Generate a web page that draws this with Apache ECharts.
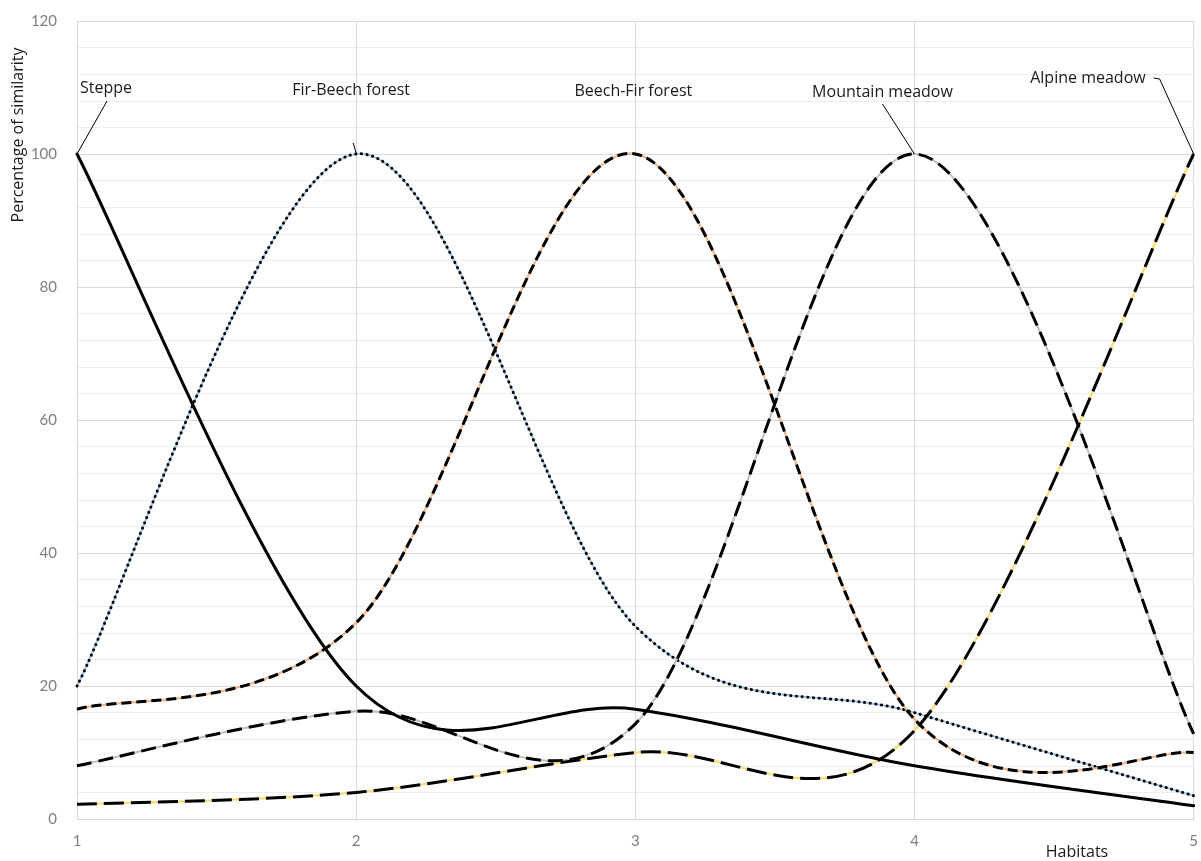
<!DOCTYPE html>
<html><head><meta charset="utf-8">
<script src="https://cdn.jsdelivr.net/npm/echarts@6/dist/echarts.min.js"></script>
<style>html,body{margin:0;padding:0;background:#fff}#c{width:1201px;height:861px}</style>
</head><body><div id="c"></div>
<script>
const habitats = [1, 2, 3, 4, 5];
const steppe = [100, 20, 16.5, 8, 2];
const firBeech = [20, 100, 29, 16, 3.5];
const beechFir = [16.5, 29.5, 100, 15, 10];
const mountainMeadow = [8, 16.2, 14.3, 100, 12.8];
const alpineMeadow = [2.2, 4, 10, 13.3, 100];
const yTicks = [0, 20, 40, 60, 80, 100, 120];
const seriesNames = ['Steppe', 'Fir-Beech forest', 'Beech-Fir forest', 'Mountain meadow', 'Alpine meadow'];

const TICK_FONT = 'Lato, "Open Sans", sans-serif';
const TEXT_FONT = '"Open Sans", Lato, sans-serif';
const pts = arr => habitats.map((x, i) => [x, arr[i]]);

// Smoothed curve (Excel-like cardinal spline) through the data points, placed with the axes' scales
function smoothRenderer(arr, layers) {
  return function (params, api) {
    if (params.dataIndex !== 0) return null;
    const p = habitats.map((x, i) => api.coord([x, arr[i]]));
    const n = p.length;
    let d = 'M' + p[0][0] + ',' + p[0][1];
    for (let i = 0; i < n - 1; i++) {
      const p0 = p[i - 1] || p[i], p1 = p[i], p2 = p[i + 1], p3 = p[i + 2] || p[i + 1];
      const c1x = p1[0] + (p2[0] - p0[0]) / 6, c1y = p1[1] + (p2[1] - p0[1]) / 6;
      const c2x = p2[0] - (p3[0] - p1[0]) / 6, c2y = p2[1] - (p3[1] - p1[1]) / 6;
      d += ' C' + c1x + ',' + c1y + ' ' + c2x + ',' + c2y + ' ' + p2[0] + ',' + p2[1];
    }
    return {
      type: 'group',
      children: layers.map(l => ({
        type: 'path', shape: { pathData: d },
        style: { fill: 'none', stroke: l.color, lineWidth: l.width, lineDash: l.dash || null, lineCap: l.cap || 'butt', lineJoin: 'round' }
      }))
    };
  };
}

function curve(name, arr, layers, z) {
  return { name, type: 'custom', coordinateSystem: 'cartesian2d', data: pts(arr),
    encode: { x: 0, y: 1 }, z, silent: true, renderItem: smoothRenderer(arr, layers) };
}

const series = [
  curve(seriesNames[1], firBeech, [{ color: '#9dc3e6', width: 2 }, { color: '#000', width: 3, dash: [0.1, 5.6], cap: 'round' }], 3),
  curve(seriesNames[2], beechFir, [{ color: '#f4b183', width: 2 }, { color: '#000', width: 3, dash: [10, 5] }], 4),
  curve(seriesNames[3], mountainMeadow, [{ color: '#bfbfbf', width: 2 }, { color: '#000', width: 3, dash: [15, 7] }], 5),
  curve(seriesNames[4], alpineMeadow, [{ color: '#ffd966', width: 2 }, { color: '#000', width: 3, dash: [20, 7] }], 6),
  curve(seriesNames[0], steppe, [{ color: '#000', width: 3, cap: 'round' }], 7)
];

const chart = echarts.init(document.getElementById('c'), null, { renderer: 'canvas' });
chart.setOption({
  animation: false,
  backgroundColor: '#fff',
  grid: { left: 77, right: 4, top: 21, bottom: 42, containLabel: false },
  xAxis: {
    type: 'value', min: 1, max: 5, interval: 1,
    axisLine: { show: true, lineStyle: { color: '#d9d9d9', width: 1 } },
    axisTick: { show: false },
    axisLabel: { color: '#7f7f7f', fontFamily: TICK_FONT, fontSize: 15, margin: 15 },
    splitLine: { show: true, lineStyle: { color: '#d9d9d9', width: 1 } }
  },
  yAxis: {
    type: 'value', min: yTicks[0], max: yTicks[yTicks.length - 1], interval: 20,
    axisLine: { show: false }, axisTick: { show: false },
    axisLabel: { color: '#7f7f7f', fontFamily: TICK_FONT, fontSize: 15, margin: 20,
      formatter: v => yTicks.includes(v) ? String(v) : '' },
    splitLine: { show: true, lineStyle: { color: '#d9d9d9', width: 1 } },
    minorTick: { show: false, splitNumber: 5 },
    minorSplitLine: { show: true, lineStyle: { color: '#ededed', width: 1 } }
  },
  series
});

// Annotations anchored to the peak data points
const peaks = [
  [habitats[0], steppe[0]],
  [habitats[1], firBeech[1]],
  [habitats[2], beechFir[2]],
  [habitats[3], mountainMeadow[3]],
  [habitats[4], alpineMeadow[4]]
];
const P = peaks.map(p => chart.convertToPixel({ gridIndex: 0 }, p));
const txt = (text, x, y, align) => ({ type: 'text', z: 100, style: { text, x, y, fill: '#1a1a1a', font: '16px ' + TEXT_FONT, align: align || 'center', verticalAlign: 'middle' } });
const line = (points) => ({ type: 'polyline', z: 100, shape: { points }, style: { stroke: '#000', lineWidth: 1, fill: null } });
const g = [
  txt(seriesNames[0], P[0][0] + 3, P[0][1] - 66, 'left'),
  line([[P[0][0], P[0][1]], [P[0][0] + 30, P[0][1] - 53]]),
  txt(seriesNames[1], P[1][0] - 5, P[1][1] - 64),
  line([[P[1][0], P[1][1] - 1], [P[1][0] - 3, P[1][1] - 11]]),
  txt(seriesNames[2], P[2][0] - 2, P[2][1] - 63),
  txt(seriesNames[3], P[3][0] - 32, P[3][1] - 62),
  line([[P[3][0], P[3][1]], [P[3][0] - 32, P[3][1] - 50]]),
  txt(seriesNames[4], P[4][0] - 48, P[4][1] - 76, 'right'),
  line([[P[4][0], P[4][1]], [P[4][0] - 34, P[4][1] - 75], [P[4][0] - 40, P[4][1] - 76]]),
  { type: 'text', z: 100, rotation: Math.PI / 2, x: 18, y: 135,
    style: { text: 'Percentage of similarity', fill: '#1a1a1a', font: '16px ' + TEXT_FONT, align: 'center', verticalAlign: 'middle' } },
  txt('Habitats', 1077, 852)
];
chart.setOption({ graphic: g });
</script></body></html>
